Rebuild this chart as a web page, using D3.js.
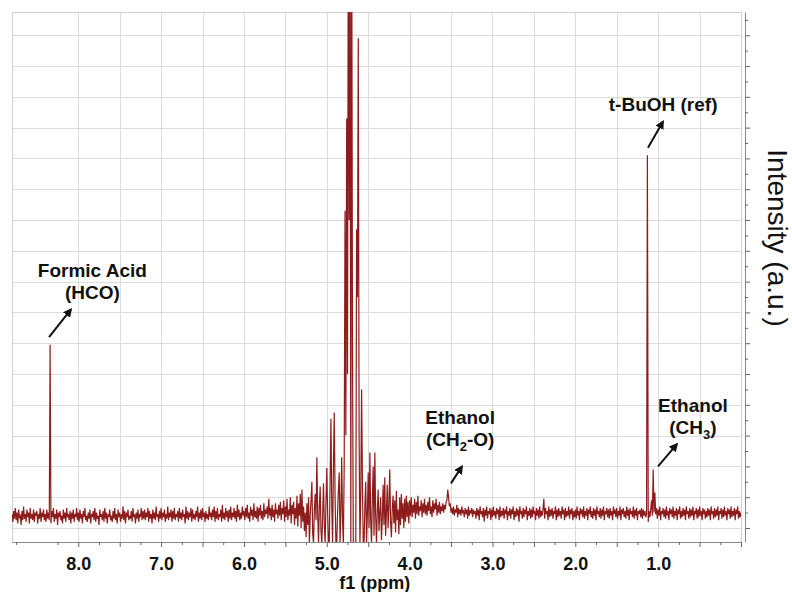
<!DOCTYPE html>
<html>
<head>
<meta charset="utf-8">
<script src="https://cdn.jsdelivr.net/npm/d3@7"></script>
<style>
  body { margin: 0; background: #fff; }
  svg { display: block; }
</style>
</head>
<body>
<div class="main"></div>
<script>
// Spectre RMN : un point tous les 0.01 ppm, de 8.80 à 0.00 ppm (intensité en u.a.)
const ppmDebut = 8.80;
const ppmPas = 0.01;
const intensites = [
  9,4,11,6,13,5,10,3,12,7,8,2,11,5,14,6,9,4,12,7,10,3,13,6,9,5,12,4,10,8,11,3,9,6,13,4,10,7,12,5,
  9,4,12,6,10,5,119,3,11,7,13,4,9,6,12,2,10,7,11,5,8,3,12,6,10,4,13,7,9,5,11,3,10,6,12,4,9,7,13,5,
  10,4,12,6,9,3,11,7,13,5,8,4,10,6,12,3,9,7,11,5,13,4,10,6,8,2,12,7,9,5,11,4,13,6,10,3,9,7,12,5,
  8,4,11,6,13,5,9,3,12,7,10,4,9,6,14,5,11,3,10,7,12,5,8,6,11,4,13,7,9,3,10,6,12,4,9,7,13,5,11,6,
  12,5,10,7,13,4,11,6,9,3,12,6,10,5,14,7,9,4,11,6,13,5,10,7,12,4,9,6,14,5,10,7,12,4,11,6,13,5,9,7,
  11,4,13,6,10,5,12,7,9,3,14,6,11,5,10,7,13,4,12,6,9,5,11,7,14,4,10,6,12,5,13,7,10,4,11,6,9,5,14,7,
  10,5,12,7,14,4,11,6,13,5,9,7,12,4,15,6,10,5,13,7,11,4,12,6,14,5,10,7,13,6,11,4,15,7,12,5,10,6,14,8,
  11,5,13,7,15,6,10,4,14,8,12,5,16,7,11,6,14,4,13,8,15,6,11,5,16,7,12,9,14,6,19,8,13,5,15,7,12,4,16,9,
  12,6,15,8,17,5,13,9,18,4,14,7,19,5,12,8,20,3,15,9,17,2,13,6,21,1,16,8,22,0,25,4,14,-2,10,-6,16,2,20,-10,
  8,18,30,-4,-10,12,22,5,46,10,-10,14,27,-2,-10,8,29,3,-10,16,39,10,-10,-10,30,71,15,-10,40,75,20,-10,-10,10,25,36,-10,12,46,5,
  -10,40,206,60,266,100,420,200,420,-10,420,120,-10,-10,-10,-10,194,150,318,60,-10,20,90,30,-10,-10,15,30,-10,10,36,0,49,5,-10,20,40,-5,49,8,
  -10,12,25,-2,10,20,-8,6,28,2,33,-5,10,28,0,15,38,4,-6,12,21,3,18,-3,24,5,12,-4,20,2,22,6,16,0,19,4,21,7,17,3,
  18,8,20,7,15,10,19,6,17,9,21,8,14,11,18,7,16,10,19,9,15,8,17,11,20,9,14,7,18,10,16,12,19,8,15,10,17,9,14,11,
  16,10,15,12,17,18,25,20,14,16,10,13,9,14,8,12,10,15,7,13,9,12,8,14,10,11,7,13,9,12,6,14,8,11,10,13,7,12,9,11,
  6,13,8,12,5,14,9,11,7,13,4,12,8,14,6,11,9,13,5,12,7,14,8,11,6,13,9,12,5,14,7,11,8,13,6,12,9,14,5,11,
  8,13,6,12,9,14,5,11,7,13,8,12,4,14,9,11,6,13,7,12,9,14,5,11,8,13,6,12,7,14,9,11,5,13,8,12,6,14,7,11,
  8,12,19,6,13,9,11,5,14,7,12,8,13,6,11,9,14,5,12,7,13,8,11,6,14,9,12,5,13,7,11,8,14,6,12,9,13,5,11,7,
  12,6,14,8,11,5,13,9,12,7,14,6,11,8,13,5,12,9,14,7,11,6,13,8,12,5,14,9,11,7,13,6,12,8,14,5,11,9,13,7,
  12,6,13,8,11,5,14,9,12,7,13,6,11,8,14,5,12,9,13,7,11,6,14,8,12,5,13,9,11,7,14,6,12,8,13,5,11,9,12,7,
  13,6,12,8,11,7,9,242,4,11,7,12,18,8,38,10,23,9,13,6,12,8,14,5,11,9,13,7,12,6,14,8,11,5,13,9,12,7,14,6,
  11,8,13,5,12,9,14,6,11,7,13,8,12,5,14,9,11,6,13,7,12,8,14,5,11,9,13,6,12,7,14,8,11,5,13,9,12,6,11,7,
  13,8,12,5,14,9,11,6,13,7,12,8,14,5,11,9,13,6,12,7,14,8,11,5,13,9,12,6,14,7,11,8,13,5,12,9,14,6,11,7,
  10
];

// Graduations étiquetées de l'axe f1
const etiquettesPpm = [8, 7, 6, 5, 4, 3, 2, 1];

// Annotations des pics (texte + flèche, en ppm / u.a.)
const annotations = [
  { lignes: [[['Formic Acid']], [['(HCO)']]], ppm: 7.83, val: 163, de: [8.353, 124], vers: [8.088, 142] },
  { lignes: [[['t-BuOH (ref)']]], ppm: 0.94, val: 271, de: [1.123, 247], vers: [0.941, 264] },
  { lignes: [[['Ethanol']], [['(CH'], ['2', 'sub'], ['-O)']]], ppm: 3.39, val: 67.5, de: [3.501, 29], vers: [3.368, 40] },
  { lignes: [[['Ethanol']], [['(CH'], ['3', 'sub'], [')']]], ppm: 0.58, val: 75.3, de: [1.002, 40], vers: [0.773, 54.5] }
];

// Paramètres de la visualisation
const width = 792;
const height = 592;
const margin = { top: 12, right: 51, bottom: 50, left: 12 };
const police = 'Arial, "Liberation Sans", sans-serif';

const svg = d3.select('.main')
  .append('svg')
  .attr('width', width)
  .attr('height', height)
  .style('font-family', police);

// Échelles
const x = d3.scaleLinear()
  .domain([8.80, 0.0])
  .range([margin.left, width - margin.right]);

const y = d3.scaleLinear()
  .domain([-9.1, 335.1])
  .range([height - margin.bottom, margin.top]);

const majeursX = d3.range(0, 17).map(k => k * 0.5).filter(v => v <= 8.8);
const mineursX = d3.range(0, 36).map(k => k * 0.25).filter(v => v <= 8.8 && v % 0.5 !== 0);
const majeursY = d3.range(0, 17).map(k => k * 20);
const mineursY = d3.range(0, 17).map(k => k * 20 + 10);

// Grille
const grille = svg.append('g')
  .attr('stroke', '#dcdcdc')
  .attr('stroke-width', 1);

grille.selectAll('line.v')
  .data(majeursX)
  .enter()
  .append('line')
  .attr('x1', d => Math.round(x(d)) + 0.5)
  .attr('x2', d => Math.round(x(d)) + 0.5)
  .attr('y1', margin.top)
  .attr('y2', height - margin.bottom);

grille.selectAll('line.h')
  .data(majeursY)
  .enter()
  .append('line')
  .attr('x1', margin.left)
  .attr('x2', width - margin.right)
  .attr('y1', d => Math.round(y(d)) + 0.5)
  .attr('y2', d => Math.round(y(d)) + 0.5);

svg.append('rect')
  .attr('x', margin.left + 0.5)
  .attr('y', margin.top + 0.5)
  .attr('width', width - margin.left - margin.right)
  .attr('height', height - margin.top - margin.bottom)
  .attr('fill', 'none')
  .attr('stroke', '#d0d0d0');

// Zone de découpe du spectre
svg.append('clipPath')
  .attr('id', 'zone')
  .append('rect')
  .attr('x', margin.left)
  .attr('y', margin.top)
  .attr('width', width - margin.left - margin.right)
  .attr('height', height - margin.top - margin.bottom);

const ligne = d3.line()
  .x((d, i) => x(ppmDebut - i * ppmPas))
  .y(d => y(d));

svg.append('path')
  .datum(intensites)
  .attr('clip-path', 'url(#zone)')
  .attr('fill', 'none')
  .attr('stroke', '#8e1c1c')
  .attr('stroke-width', 1.2)
  .attr('d', ligne);

// Axe horizontal
const axeX = svg.append('g')
  .attr('transform', `translate(0, ${height - margin.bottom})`)
  .call(d3.axisBottom(x)
    .tickValues(majeursX)
    .tickSize(5)
    .tickPadding(10)
    .tickSizeOuter(0)
    .tickFormat(d => etiquettesPpm.includes(d) ? d3.format('.1f')(d) : ''));

axeX.select('.domain').attr('stroke', '#8a8a8a');
axeX.selectAll('.tick line').attr('stroke', '#666');
axeX.selectAll('.tick text')
  .attr('fill', '#111')
  .style('font-family', police)
  .style('font-size', '18px')
  .style('font-weight', 'bold');

axeX.append('g')
  .selectAll('line')
  .data(mineursX)
  .enter()
  .append('line')
  .attr('x1', d => x(d) + 0.5)
  .attr('x2', d => x(d) + 0.5)
  .attr('y1', 0)
  .attr('y2', 3)
  .attr('stroke', '#666');

// Axe vertical (à droite, sans étiquettes)
const axeY = svg.append('g')
  .attr('transform', `translate(${width - margin.right + 4}, 0)`)
  .call(d3.axisRight(y)
    .tickValues(majeursY)
    .tickSize(5)
    .tickSizeOuter(0)
    .tickFormat(''));

axeY.select('.domain').attr('stroke', '#8a8a8a');
axeY.selectAll('.tick line').attr('stroke', '#666');

axeY.append('g')
  .selectAll('line')
  .data(mineursY)
  .enter()
  .append('line')
  .attr('x1', 0)
  .attr('x2', 3)
  .attr('y1', d => y(d) + 0.5)
  .attr('y2', d => y(d) + 0.5)
  .attr('stroke', '#666');

// Titres des axes
svg.append('text')
  .attr('x', x(4.42))
  .attr('y', 589)
  .attr('text-anchor', 'middle')
  .style('font-size', '18px')
  .style('font-weight', 'bold')
  .attr('fill', '#111')
  .text('f1 (ppm)');

svg.append('text')
  .attr('transform', `translate(768, ${(margin.top + height - margin.bottom) / 2 - 39}) rotate(90)`)
  .attr('text-anchor', 'middle')
  .style('font-size', '28px')
  .attr('fill', '#111')
  .text('Intensity (a.u.)');

// Flèches et textes des annotations
svg.append('defs')
  .append('marker')
  .attr('id', 'fleche')
  .attr('viewBox', '0 0 10 10')
  .attr('refX', 8)
  .attr('refY', 5)
  .attr('markerWidth', 9)
  .attr('markerHeight', 9)
  .attr('markerUnits', 'userSpaceOnUse')
  .attr('orient', 'auto')
  .append('path')
  .attr('d', 'M0,0 L10,5 L0,10 z')
  .attr('fill', '#111');

const groupeAnn = svg.append('g');

groupeAnn.selectAll('line')
  .data(annotations)
  .enter()
  .append('line')
  .attr('x1', d => x(d.de[0]))
  .attr('y1', d => y(d.de[1]))
  .attr('x2', d => x(d.vers[0]))
  .attr('y2', d => y(d.vers[1]))
  .attr('stroke', '#111')
  .attr('stroke-width', 2)
  .attr('marker-end', 'url(#fleche)');

annotations.forEach(a => {
  a.lignes.forEach((morceaux, k) => {
    const t = groupeAnn.append('text')
      .attr('x', x(a.ppm))
      .attr('y', y(a.val) + k * 22)
      .attr('text-anchor', 'middle')
      .attr('fill', '#111')
      .style('font-size', '19px')
      .style('font-weight', 'bold');
    let decale = 0;
    morceaux.forEach(m => {
      const sub = m[1] === 'sub';
      const dy = sub ? 5 - decale : -decale;
      decale = sub ? 5 : 0;
      t.append('tspan')
        .attr('dy', dy)
        .style('font-size', sub ? '13px' : null)
        .text(m[0]);
    });
  });
});
</script>
</body>
</html>
